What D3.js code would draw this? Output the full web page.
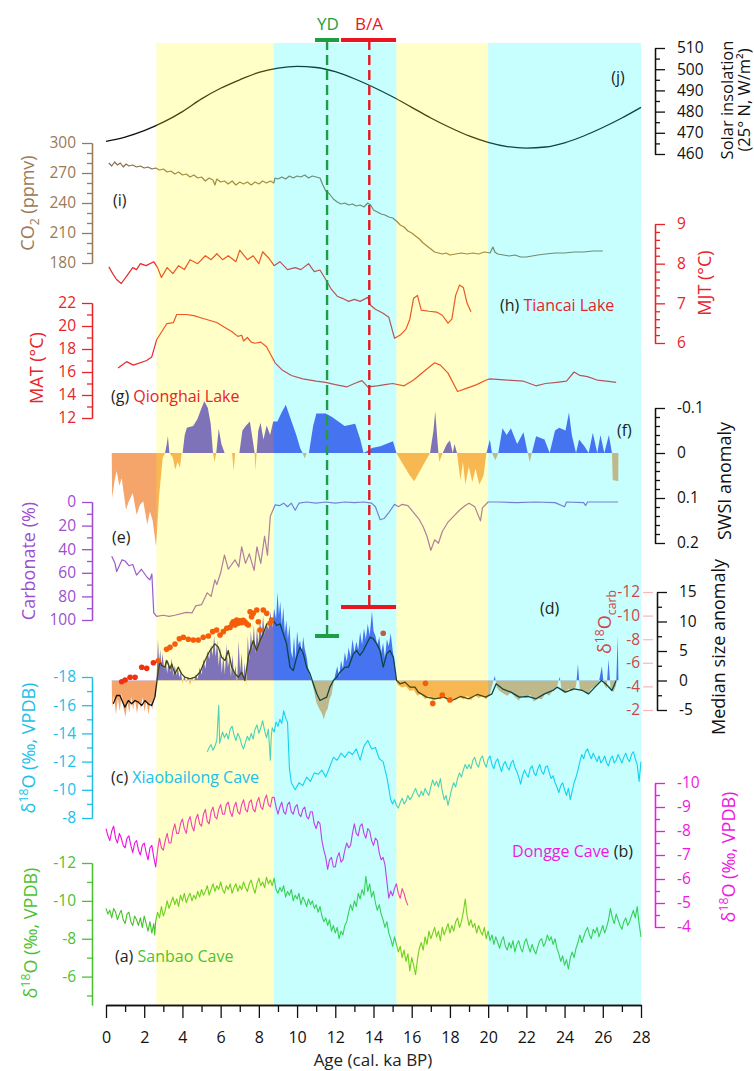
<!DOCTYPE html>
<html>
<head>
<meta charset="utf-8">
<script src="https://cdn.jsdelivr.net/npm/d3@7"></script>
<style>
  body { margin: 0; background: #fff; }
  svg text { font-family: "Open Sans", "Noto Sans", sans-serif; }
</style>
</head>
<body>
<svg id="chart" width="754" height="1071"></svg>
<script>
// ---- data (ages in ka BP) ----
const bandStart = [2.64, 8.78, 15.2, 20.0];
const bandEnd = [8.78, 15.2, 20.0, 28];
const bandKind = ["yellow", "cyan", "yellow", "cyan"];

const ydSpan = [10.94, 12.2], ydAge = 11.57;
const baSpan = [12.3, 15.18], baAge = 13.78;

// (j) solar insolation, 25N
const solar = [[0,466],[1,468],[2,471],[3,475],[4,480],[5,486],[6,491],[7,495],[8,498.5],[9,500.5],[10,501.3],[11,500.8],[12,498.8],[13,495.5],[14,491.5],[15,487],[16,482],[17,477],[18,472.5],[19,468.5],[20,465.5],[21,463.5],[22,462.8],[23,463.3],[24,465.3],[25,468.5],[26,472.5],[27,477],[28,482]];

// (i) CO2
const co2 = [[0.15,280],[0.3,277],[0.45,281],[0.6,278],[0.75,280],[0.9,276],[1.05,279],[1.2,277],[1.4,278],[1.6,276],[1.8,277],[2.0,275],[2.2,276],[2.4,274],[2.6,275],[2.8,273],[3.0,274],[3.2,271],[3.4,272],[3.6,269],[3.8,271],[4.0,268],[4.2,269],[4.4,266],[4.6,268],[4.8,265],[5.0,266],[5.2,262],[5.4,265],[5.6,263],[5.7,258],[5.8,264],[6.0,261],[6.2,262],[6.4,259],[6.6,262],[6.8,258],[7.0,261],[7.2,259],[7.4,261],[7.6,258],[7.8,261],[8.0,259],[8.2,262],[8.4,260],[8.6,262],[8.78,260],[8.85,265],[9.0,264],[9.2,266],[9.4,264],[9.6,267],[9.8,265],[10.0,267],[10.2,266],[10.4,268],[10.6,265],[10.8,267],[11.0,266],[11.2,265],[11.35,258],[11.5,252],[11.7,249],[11.9,244],[12.1,241],[12.3,239],[12.5,240],[12.7,238],[12.9,239],[13.1,237],[13.3,238],[13.5,236],[13.7,240],[13.85,238],[14.0,233],[14.2,231],[14.4,229],[14.6,228],[14.8,226],[15.0,225],[15.2,222],[15.4,218],[15.6,216],[15.8,212],[16.0,210],[16.2,207],[16.4,204],[16.6,200],[16.8,197],[17.0,194],[17.2,191],[17.4,190],[17.6,189],[17.8,190],[18.0,188],[18.3,189],[18.6,190],[18.9,189],[19.2,190],[19.5,189],[19.8,191],[20.1,190],[20.25,196],[20.35,191],[20.5,189],[20.8,188],[21.1,187],[21.4,188],[21.7,186],[22.0,186],[22.3,187],[22.6,188],[23.0,189],[23.5,190],[24.0,190],[24.5,191],[25.0,191],[25.5,192],[26.0,192]];

// (h) Tiancai Lake MJT
const mjt = [[0.15,7.92],[0.35,7.75],[0.55,7.6],[0.8,7.5],[1.1,7.7],[1.4,7.9],[1.6,7.85],[1.8,8.0],[2.1,7.95],[2.5,8.05],[2.7,7.9],[2.9,7.65],[3.2,7.9],[3.5,7.75],[3.8,7.95],[4.1,7.85],[4.4,8.1],[4.8,8.0],[5.2,8.2],[5.5,8.1],[5.8,8.25],[6.1,8.1],[6.4,8.2],[6.8,8.05],[7.0,8.34],[7.4,8.1],[7.7,8.2],[8.0,8.0],[8.2,8.3],[8.5,8.15],[8.8,7.95],[9.1,8.05],[9.5,7.85],[9.9,7.9],[10.2,7.85],[10.6,8.0],[10.9,7.8],[11.2,7.84],[11.5,7.6],[11.8,7.35],[12.1,7.18],[12.4,7.12],[12.7,7.05],[13.0,7.1],[13.3,7.05],[13.7,7.15],[13.85,6.95],[14.1,6.85],[14.5,6.75],[14.8,6.65],[15.1,6.12],[15.4,6.2],[15.7,6.35],[15.9,6.6],[16.1,7.13],[16.3,7.2],[16.5,6.83],[16.9,6.8],[17.3,6.78],[17.6,6.7],[17.9,6.5],[18.1,6.6],[18.3,7.2],[18.5,7.46],[18.7,7.4],[18.9,7.0],[19.1,6.79]];

// (g) Qionghai Lake MAT
const mat = [[0.63,16.35],[1.08,16.9],[1.43,16.6],[2.13,17.0],[2.39,17.3],[2.65,18.8],[3.18,20.2],[3.53,20.3],[3.7,21.0],[4.2,21.0],[4.6,20.9],[5.0,20.7],[5.8,20.3],[6.2,19.9],[6.6,19.5],[6.9,19.1],[7.1,19.2],[7.2,18.7],[7.4,19.0],[7.6,18.6],[7.8,18.5],[8.1,18.6],[8.4,18.2],[8.85,16.8],[9.2,16.2],[9.7,15.7],[10.3,15.4],[11.0,15.2],[11.5,15.1],[12.0,14.9],[12.6,14.7],[13.0,15.0],[13.4,15.25],[13.7,14.7],[14.2,14.8],[14.6,14.9],[15.0,15.0],[15.6,14.8],[16.1,15.3],[16.6,16.0],[17.2,16.8],[17.5,16.6],[17.9,15.9],[18.4,14.3],[18.9,14.6],[19.4,14.9],[19.9,15.3],[20.1,15.4],[21.0,15.3],[21.85,15.2],[22.5,14.8],[23.0,15.0],[23.6,15.1],[24.1,15.2],[24.5,16.0],[24.8,15.7],[25.2,15.6],[25.7,15.3],[26.2,15.2],[26.7,15.1]];

// (f) SWSI anomaly
const swsi = [[0.3,0],[0.32,0.1],[0.47,0.056],[0.56,0.04],[0.7,0.073],[0.82,0.056],[1.05,0.126],[1.17,0.11],[1.4,0.089],[1.6,0.137],[1.78,0.115],[1.95,0.107],[2.16,0.159],[2.3,0.13],[2.44,0.15],[2.62,0.207],[2.79,0.09],[2.97,0.01],[3.09,0],[3.18,-0.02],[3.24,-0.037],[3.32,0],[3.5,0.01],[3.62,0.037],[3.75,0.02],[3.87,0.033],[3.96,0],[4.01,0],[4.12,-0.04],[4.23,-0.056],[4.56,-0.06],[4.78,-0.075],[5.0,-0.1],[5.15,-0.115],[5.33,-0.1],[5.48,-0.065],[5.6,0],[5.68,0.02],[5.77,0],[5.9,-0.054],[6.04,-0.02],[6.21,0],[6.6,0],[6.68,0.04],[6.76,0],[6.98,0],[7.14,-0.05],[7.31,-0.06],[7.53,-0.07],[7.71,-0.02],[7.78,0],[7.82,0.04],[7.88,0],[7.97,-0.05],[8.09,-0.067],[8.24,-0.03],[8.41,-0.061],[8.59,-0.04],[8.75,-0.07],[8.97,-0.07],[9.19,-0.09],[9.41,-0.107],[9.63,-0.08],[9.96,-0.04],[10.17,-0.01],[10.29,0],[10.4,0.012],[10.5,0],[10.62,0],[10.84,-0.06],[11.01,-0.088],[11.5,-0.088],[11.83,-0.08],[12.16,-0.07],[12.49,-0.06],[13.04,-0.065],[13.31,-0.03],[13.48,0],[13.7,-0.005],[13.92,-0.011],[14.36,-0.015],[15.02,-0.026],[15.2,0],[15.47,0.02],[15.9,0.05],[16.13,0.063],[16.56,0.03],[16.96,0],[17.14,-0.05],[17.23,-0.093],[17.36,-0.02],[17.44,0.02],[17.62,0],[17.84,-0.02],[18.0,-0.028],[18.15,0],[18.24,-0.02],[18.37,0],[18.55,0.06],[18.68,0.02],[18.81,0.07],[18.99,0.03],[19.17,0.065],[19.34,0.035],[19.54,0.07],[19.76,0.05],[19.91,0],[20.09,-0.03],[20.2,0],[20.38,0.016],[20.53,0],[20.75,-0.055],[20.97,-0.04],[21.19,-0.055],[21.52,-0.02],[21.85,-0.046],[22.07,0],[22.18,0.02],[22.29,0],[22.51,-0.037],[22.95,-0.03],[23.22,0],[23.5,-0.05],[23.72,-0.056],[24.05,-0.05],[24.23,-0.09],[24.38,-0.04],[24.6,0],[24.76,-0.03],[25.04,-0.015],[25.26,0],[25.48,-0.045],[25.71,0],[25.88,-0.04],[26.08,0],[26.32,-0.04],[26.48,0],[26.52,0.06],[26.81,0.063],[26.82,0]];

// (e) carbonate %
const carbonate = [[0.3,46],[0.47,52],[0.56,59],[0.84,49],[1.0,50],[1.2,54],[1.4,53],[1.6,62],[1.85,57],[2.16,64],[2.3,66],[2.4,61],[2.5,94],[2.65,97],[3.0,96],[3.3,97],[3.6,96],[4.2,93.5],[4.5,94],[4.7,88],[5.0,87],[5.3,77],[5.5,80],[5.7,66],[5.8,70],[6.0,60],[6.2,45],[6.4,57],[6.75,49],[6.95,55],[7.1,38],[7.3,52],[7.5,44],[7.75,58],[7.9,38],[8.1,52],[8.3,29],[8.45,45],[8.6,12],[8.85,2.5],[9.1,3],[9.3,1],[9.5,4],[9.7,1],[9.9,7],[10.1,1],[10.5,0],[11.0,1],[11.5,0],[12.0,1],[12.5,0],[13.0,0.5],[13.5,0],[13.9,1],[14.1,4],[14.35,15],[14.55,14],[14.8,9],[15.1,2],[15.3,4],[15.5,2],[15.8,3],[16.1,9],[16.4,15],[16.6,21],[16.8,29],[17.0,41],[17.2,32],[17.4,35],[17.6,25],[17.9,17],[18.2,12],[18.5,7],[18.8,3],[19.0,1],[19.3,4],[19.6,16],[19.7,5],[20.0,0],[20.5,0],[21.5,0.5],[22.5,0],[23.5,0.5],[24.0,4],[24.1,0],[25.0,0.5],[25.1,3],[25.2,0],[26.0,0],[26.8,0]];

// (d) median size anomaly: raw record and smoothed curve
const medianRaw = [[0.3,0],[0.32,-4.5],[0.42,-2.5],[0.52,-5.8],[0.62,-3.0],[0.72,-5.2],[0.82,-2.2],[0.92,-4.8],[1.02,-6.2],[1.12,-3.6],[1.22,-5.5],[1.32,-2.8],[1.42,-4.9],[1.52,-3.2],[1.62,-5.6],[1.72,-3.5],[1.82,-4.6],[1.92,-2.9],[2.02,-5.3],[2.12,-3.3],[2.22,-5.8],[2.32,-3.6],[2.42,-4.9],[2.52,-3.0],[2.6,-2.2],[2.65,0.5],[2.72,7.0],[2.78,3.0],[2.84,5.2],[2.9,2.4],[2.96,4.6],[3.04,1.9],[3.12,3.6],[3.2,1.2],[3.28,3.3],[3.36,1.4],[3.44,3.8],[3.52,0.8],[3.6,2.6],[3.68,0.9],[3.76,2.2],[3.84,0.5],[3.92,1.6],[4.0,-0.6],[4.1,0.8],[4.2,-0.4],[4.3,0.6],[4.4,-0.8],[4.5,0.4],[4.6,-0.3],[4.7,1.0],[4.8,0.2],[4.9,2.2],[5.0,1.0],[5.1,3.6],[5.2,2.0],[5.3,5.0],[5.4,3.6],[5.5,6.0],[5.58,4.2],[5.66,7.6],[5.74,4.0],[5.82,6.8],[5.9,2.4],[5.98,5.6],[6.06,1.2],[6.14,4.4],[6.22,1.0],[6.3,6.2],[6.38,2.2],[6.46,3.8],[6.54,0.6],[6.62,4.4],[6.7,0.8],[6.78,2.6],[6.86,-0.6],[6.94,6.8],[7.02,1.6],[7.1,4.6],[7.18,0.2],[7.26,3.0],[7.34,-1.0],[7.42,7.6],[7.5,3.4],[7.58,8.4],[7.66,5.2],[7.74,9.4],[7.82,4.6],[7.9,8.8],[7.98,6.0],[8.06,10.6],[8.14,7.2],[8.22,11.0],[8.3,7.8],[8.4,9.8],[8.5,8.6],[8.6,11.6],[8.7,9.0],[8.8,12.2],[8.9,10.4],[8.98,15.0],[9.05,11.0],[9.12,13.4],[9.2,9.4],[9.28,12.4],[9.36,8.0],[9.44,10.2],[9.52,7.0],[9.6,9.4],[9.68,5.0],[9.76,3.8],[9.84,7.4],[9.92,3.6],[10.0,8.4],[10.08,6.0],[10.16,6.8],[10.24,4.6],[10.32,7.4],[10.4,5.4],[10.5,4.0],[10.6,1.6],[10.7,0.6],[10.8,-0.6],[10.9,-2.0],[11.0,-3.6],[11.1,-4.4],[11.2,-5.0],[11.3,-5.6],[11.4,-6.6],[11.5,-5.4],[11.6,-4.8],[11.7,-3.2],[11.8,-2.4],[11.9,-0.6],[12.0,1.0],[12.1,2.4],[12.2,0.6],[12.3,3.4],[12.4,2.0],[12.5,4.8],[12.6,3.2],[12.7,5.6],[12.8,4.0],[12.9,7.0],[13.0,4.8],[13.1,6.6],[13.2,5.2],[13.3,8.2],[13.4,6.0],[13.5,8.8],[13.6,7.0],[13.7,9.6],[13.8,7.6],[13.92,11.8],[14.0,8.4],[14.1,7.6],[14.2,6.0],[14.3,7.4],[14.4,4.6],[14.5,6.4],[14.6,3.8],[14.7,7.0],[14.8,5.8],[14.9,8.0],[15.0,5.2],[15.1,3.0],[15.18,0.4],[15.24,-0.6],[15.3,-0.8],[15.5,-1.2],[15.7,-1.0],[15.9,-1.8],[16.1,-1.6],[16.3,-2.6],[16.5,-2.2],[16.7,-3.2],[16.9,-2.6],[17.1,-3.4],[17.3,-3.0],[17.5,-3.2],[17.7,-2.8],[17.9,-3.6],[18.1,-3.0],[18.3,-3.4],[18.5,-2.8],[18.7,-3.2],[18.9,-2.6],[19.1,-3.4],[19.3,-2.4],[19.5,-3.0],[19.7,-2.6],[19.9,-3.2],[20.1,-2.2],[20.25,-0.4],[20.35,0.8],[20.45,-1.2],[20.6,-1.8],[20.8,-2.2],[21.0,-2.6],[21.2,-2.0],[21.4,-2.8],[21.6,-3.4],[21.8,-2.6],[22.0,-3.0],[22.2,-2.4],[22.4,-3.6],[22.6,-3.0],[22.8,-3.2],[23.0,-2.2],[23.2,-2.6],[23.4,-1.6],[23.6,-1.0],[23.75,0.6],[23.85,-1.8],[24.0,-2.2],[24.2,-1.4],[24.4,-1.8],[24.6,-1.0],[24.7,2.8],[24.8,-1.6],[25.0,-1.8],[25.2,-2.4],[25.4,-1.4],[25.6,-1.0],[25.8,-0.2],[25.95,2.4],[26.05,-0.6],[26.2,-1.4],[26.3,3.6],[26.4,-1.2],[26.55,-2.0],[26.7,-0.8],[26.78,7.6],[26.82,0]];
const medianSmooth = [[0.38,-3.95],[0.56,-2.54],[0.73,-2.54],[0.91,-3.95],[0.99,-4.52],[1.17,-3.39],[1.34,-3.95],[1.52,-3.39],[1.69,-3.67],[1.87,-4.24],[2.04,-3.39],[2.21,-3.95],[2.39,-4.24],[2.56,-2.82],[2.65,-0.56],[2.74,1.69],[2.83,3.39],[2.91,2.54],[3.09,2.26],[3.18,3.39],[3.35,1.98],[3.44,2.82],[3.61,1.13],[3.78,2.26],[3.96,1.13],[4.13,0.56],[4.4,0.28],[4.66,0.56],[4.92,1.41],[5.18,3.39],[5.44,5.08],[5.7,6.21],[5.88,5.65],[6.05,3.95],[6.23,3.39],[6.4,5.08],[6.58,2.26],[6.75,1.13],[6.93,0.56],[7.1,1.41],[7.27,0],[7.45,3.95],[7.54,5.08],[7.71,6.78],[7.88,5.08],[8.06,6.78],[8.23,7.91],[8.41,9.6],[8.58,9.6],[8.76,10.17],[8.93,9.32],[9.11,9.6],[9.28,7.91],[9.45,6.21],[9.63,2.26],[9.8,1.69],[9.98,3.95],[10.15,5.65],[10.33,4.52],[10.5,2.26],[10.68,1.13],[10.85,-0.56],[11.03,-2.26],[11.2,-3.39],[11.38,-3.1],[11.55,-2.82],[11.72,-1.13],[11.9,0],[12.07,0.56],[12.25,1.41],[12.51,2.26],[12.69,2.26],[12.95,4.52],[13.12,5.08],[13.29,4.24],[13.47,5.08],[13.64,6.21],[13.82,7.34],[13.99,7.06],[14.17,6.21],[14.34,5.08],[14.51,2.26],[14.69,4.52],[14.86,5.08],[15.04,3.95],[15.21,0],[15.39,-0.56],[15.65,-0.28],[15.91,-1.13],[16.17,-1.13],[16.34,-1.98],[16.78,-2.82],[17.22,-3.1],[17.66,-2.82],[18.11,-3.39],[18.55,-2.71],[18.99,-3.1],[19.43,-2.37],[19.87,-2.82],[20.2,-2.26],[20.42,-0.56],[20.75,-1.41],[21.19,-1.98],[21.63,-2.82],[22.07,-2.71],[22.51,-3.1],[22.95,-2.26],[23.39,-1.69],[23.61,-1.13],[24.05,-1.98],[24.49,-1.41],[24.93,-1.69],[25.26,-2.26],[25.59,-1.13],[25.93,0],[26.15,-0.56],[26.48,-1.69],[26.7,0]];

// (d) d18O carb (red dots)
const carbO18 = [[0.82,-4.4],[1.0,-4.54],[1.26,-4.77],[1.52,-4.77],[1.87,-5.62],[2.13,-5.53],[2.48,-6.0],[2.74,-6.18],[3.17,-7.14],[3.35,-7.31],[3.61,-7.59],[3.84,-8.04],[4.05,-8.16],[4.31,-7.99],[4.57,-7.93],[4.83,-7.93],[5.09,-8.16],[5.36,-8.27],[5.58,-8.64],[5.79,-8.78],[5.97,-8.36],[6.14,-8.64],[6.32,-8.92],[6.49,-9.0],[6.6,-9.3],[6.66,-9.48],[6.75,-9.2],[6.84,-9.63],[6.93,-9.35],[7.0,-9.55],[7.1,-9.4],[7.18,-9.6],[7.27,-9.48],[7.36,-9.3],[7.45,-9.2],[7.54,-10.33],[7.62,-9.9],[7.71,-10.19],[7.89,-10.47],[7.97,-9.48],[8.06,-8.78],[8.23,-10.47],[8.41,-10.19],[8.58,-9.35],[8.67,-9.63],[14.51,-8.5],[16.72,-4.26],[17.1,-2.56],[17.6,-3.27],[18.0,-2.85]];

// (c) Xiaobailong Cave d18O
const xiaobailong = [[5.3,-12.7],[5.4,-13.0],[5.5,-13.2],[5.6,-12.8],[5.7,-13.1],[5.8,-13.5],[5.9,-16.0],[5.95,-13.3],[6.0,-13.6],[6.1,-14.1],[6.2,-13.7],[6.3,-14.0],[6.4,-13.6],[6.5,-14.3],[6.6,-14.5],[6.7,-13.9],[6.8,-13.5],[6.9,-14.0],[7.0,-13.7],[7.1,-13.2],[7.2,-12.9],[7.3,-13.4],[7.4,-13.8],[7.5,-13.5],[7.6,-14.0],[7.7,-13.6],[7.8,-14.3],[7.9,-14.6],[8.0,-14.0],[8.1,-14.4],[8.2,-14.9],[8.3,-14.2],[8.4,-13.7],[8.5,-14.3],[8.6,-12.1],[8.65,-13.8],[8.7,-14.4],[8.8,-14.1],[8.9,-14.8],[9.0,-14.5],[9.1,-15.0],[9.2,-14.7],[9.3,-15.6],[9.4,-15.1],[9.5,-14.8],[9.6,-11.5],[9.7,-10.5],[9.9,-10.0],[10.1,-10.5],[10.3,-10.3],[10.5,-10.9],[10.7,-10.6],[10.9,-11.2],[11.1,-11.1],[11.3,-11.4],[11.5,-10.9],[11.7,-11.6],[11.9,-12.3],[12.1,-12.1],[12.3,-12.6],[12.5,-12.3],[12.7,-12.7],[12.9,-12.5],[13.1,-12.9],[13.3,-12.1],[13.5,-13.1],[13.7,-13.5],[13.9,-12.9],[14.1,-13.0],[14.3,-12.2],[14.5,-12.0],[14.7,-10.9],[14.9,-9.3],[15.0,-9.0],[15.1,-9.3],[15.2,-8.9],[15.3,-8.7],[15.4,-9.1],[15.5,-9.4],[15.6,-9.0],[15.7,-9.2],[15.8,-9.6],[15.9,-9.3],[16.0,-9.5],[16.1,-9.8],[16.2,-10.1],[16.3,-9.7],[16.4,-9.5],[16.5,-9.9],[16.6,-9.6],[16.7,-10.1],[16.8,-9.8],[16.9,-9.6],[17.0,-10.2],[17.1,-10.7],[17.2,-10.3],[17.3,-10.6],[17.4,-10.2],[17.5,-10.8],[17.6,-9.9],[17.7,-9.3],[17.8,-9.6],[17.9,-8.9],[18.0,-9.5],[18.1,-10.1],[18.2,-10.5],[18.3,-10.2],[18.4,-10.8],[18.5,-11.2],[18.6,-10.9],[18.7,-11.4],[18.8,-11.8],[18.9,-11.5],[19.0,-11.8],[19.1,-11.5],[19.2,-12.1],[19.3,-12.3],[19.4,-11.8],[19.5,-11.6],[19.6,-12.2],[19.7,-12.4],[19.8,-11.9],[19.9,-11.6],[20.0,-12.2],[20.1,-12.4],[20.2,-11.8],[20.3,-11.5],[20.4,-12.0],[20.5,-12.2],[20.6,-11.7],[20.7,-11.3],[20.8,-11.8],[20.9,-12.0],[21.0,-11.6],[21.1,-11.4],[21.2,-11.9],[21.3,-12.1],[21.4,-11.6],[21.5,-11.3],[21.6,-10.9],[21.7,-10.4],[21.8,-11.0],[21.9,-11.4],[22.0,-11.1],[22.1,-10.9],[22.2,-11.5],[22.3,-11.7],[22.4,-11.2],[22.5,-11.0],[22.6,-11.5],[22.7,-11.8],[22.8,-11.3],[22.9,-11.1],[23.0,-11.6],[23.1,-11.7],[23.2,-11.2],[23.3,-10.8],[23.4,-11.0],[23.5,-10.5],[23.6,-10.2],[23.7,-9.8],[23.8,-10.3],[23.9,-10.5],[24.0,-10.0],[24.1,-9.6],[24.2,-10.1],[24.3,-9.3],[24.4,-9.9],[24.5,-10.5],[24.6,-10.9],[24.7,-11.4],[24.8,-12.0],[24.9,-12.5],[25.0,-12.2],[25.1,-12.7],[25.2,-12.9],[25.3,-12.5],[25.4,-12.2],[25.5,-12.6],[25.6,-12.3],[25.7,-12.0],[25.8,-12.4],[25.9,-11.9],[26.0,-12.1],[26.1,-12.4],[26.2,-11.9],[26.3,-11.7],[26.4,-12.2],[26.5,-12.4],[26.6,-11.9],[26.7,-12.1],[26.8,-12.5],[26.9,-12.2],[27.0,-11.9],[27.1,-12.3],[27.2,-12.6],[27.3,-12.2],[27.4,-12.0],[27.5,-12.5],[27.6,-12.7],[27.7,-12.2],[27.8,-11.8],[27.9,-10.6],[28.0,-12.0]];

// (b) Dongge Cave d18O
const dongge = [[0.0,-8.1],[0.1,-7.8],[0.2,-7.6],[0.3,-8.0],[0.4,-8.2],[0.5,-7.7],[0.6,-7.5],[0.7,-7.9],[0.8,-7.7],[0.9,-7.4],[1.0,-7.3],[1.1,-7.7],[1.2,-7.8],[1.3,-7.4],[1.4,-7.1],[1.5,-7.5],[1.6,-7.6],[1.7,-7.2],[1.8,-7.0],[1.9,-7.4],[2.0,-7.5],[2.1,-7.1],[2.2,-6.8],[2.3,-7.3],[2.4,-7.4],[2.5,-6.9],[2.6,-6.5],[2.7,-7.2],[2.8,-7.7],[2.9,-7.3],[3.0,-7.2],[3.1,-7.6],[3.2,-7.9],[3.3,-7.5],[3.4,-7.5],[3.5,-8.0],[3.6,-8.3],[3.7,-7.9],[3.8,-7.9],[3.9,-8.3],[4.0,-8.5],[4.1,-8.1],[4.2,-7.9],[4.3,-8.4],[4.4,-8.6],[4.5,-8.2],[4.6,-8.0],[4.7,-8.5],[4.8,-8.7],[4.9,-8.3],[5.0,-8.2],[5.1,-8.7],[5.2,-8.9],[5.3,-8.4],[5.4,-8.3],[5.5,-8.8],[5.6,-9.0],[5.7,-8.6],[5.8,-8.5],[5.9,-8.9],[6.0,-9.1],[6.1,-8.7],[6.2,-8.7],[6.3,-9.1],[6.4,-9.2],[6.5,-8.8],[6.6,-8.6],[6.7,-9.0],[6.8,-9.2],[6.9,-8.8],[7.0,-8.7],[7.1,-9.1],[7.2,-9.3],[7.3,-8.9],[7.4,-8.8],[7.5,-9.2],[7.6,-9.3],[7.7,-8.9],[7.8,-8.8],[7.9,-9.2],[8.0,-9.4],[8.1,-9.0],[8.2,-8.9],[8.3,-9.3],[8.4,-9.5],[8.5,-9.1],[8.6,-9.0],[8.7,-9.4],[8.8,-9.4],[8.9,-9.0],[9.0,-8.7],[9.1,-9.0],[9.2,-9.2],[9.3,-8.8],[9.4,-8.7],[9.5,-9.1],[9.6,-9.2],[9.7,-8.8],[9.8,-8.7],[9.9,-9.0],[10.0,-9.1],[10.1,-8.7],[10.2,-8.6],[10.3,-8.9],[10.4,-9.0],[10.5,-8.6],[10.6,-8.5],[10.7,-8.8],[10.8,-8.8],[10.9,-8.3],[11.0,-8.1],[11.1,-8.4],[11.2,-8.3],[11.3,-7.6],[11.4,-7.2],[11.5,-6.9],[11.6,-6.4],[11.7,-6.8],[11.8,-6.9],[11.9,-6.5],[12.0,-6.5],[12.1,-6.9],[12.2,-7.1],[12.3,-6.7],[12.4,-6.8],[12.5,-7.2],[12.6,-7.5],[12.7,-7.3],[12.8,-7.4],[12.9,-7.9],[13.0,-8.3],[13.1,-7.9],[13.2,-7.8],[13.3,-8.2],[13.4,-8.3],[13.5,-7.9],[13.6,-7.7],[13.7,-8.1],[13.8,-8.0],[13.9,-7.6],[14.0,-7.4],[14.1,-7.7],[14.2,-7.6],[14.3,-7.1],[14.4,-6.8],[14.5,-6.9],[14.6,-6.6],[14.7,-5.9],[14.8,-5.2],[14.9,-5.5],[15.0,-5.3],[15.1,-5.6],[15.2,-5.8],[15.3,-5.4],[15.4,-5.2],[15.5,-5.6],[15.6,-5.4],[15.7,-5.1],[15.8,-4.9]];

// (a) Sanbao Cave d18O
const sanbao = [[0.0,-9.6],[0.1,-9.3],[0.2,-9.5],[0.3,-9.1],[0.4,-9.6],[0.5,-9.4],[0.6,-9.0],[0.7,-9.3],[0.8,-9.5],[0.9,-9.0],[1.0,-8.8],[1.1,-9.3],[1.2,-9.4],[1.3,-8.9],[1.4,-8.7],[1.5,-9.2],[1.6,-9.0],[1.7,-8.7],[1.8,-9.1],[1.9,-8.6],[2.0,-9.2],[2.1,-8.8],[2.2,-8.4],[2.3,-8.9],[2.4,-8.3],[2.5,-8.8],[2.55,-8.2],[2.6,-8.9],[2.7,-9.4],[2.8,-9.1],[2.9,-9.7],[3.0,-9.2],[3.1,-9.5],[3.2,-10.0],[3.3,-9.6],[3.4,-9.9],[3.5,-10.2],[3.6,-9.8],[3.7,-10.1],[3.8,-9.7],[3.9,-10.3],[4.0,-10.0],[4.1,-10.4],[4.2,-9.9],[4.3,-10.2],[4.4,-10.4],[4.5,-10.0],[4.6,-10.3],[4.7,-10.1],[4.8,-10.5],[4.9,-10.2],[5.0,-10.6],[5.1,-10.3],[5.2,-10.5],[5.3,-10.8],[5.4,-10.3],[5.5,-10.6],[5.6,-10.9],[5.7,-10.5],[5.8,-10.8],[5.9,-10.6],[6.0,-11.0],[6.1,-10.6],[6.2,-10.4],[6.3,-10.8],[6.4,-10.6],[6.5,-10.9],[6.6,-10.4],[6.7,-10.7],[6.8,-10.9],[6.9,-10.5],[7.0,-10.8],[7.1,-10.6],[7.2,-11.0],[7.3,-10.7],[7.4,-10.5],[7.5,-10.9],[7.6,-11.1],[7.7,-10.7],[7.8,-10.4],[7.9,-10.9],[8.0,-11.2],[8.1,-10.8],[8.2,-11.0],[8.3,-10.7],[8.4,-11.25],[8.5,-10.9],[8.6,-11.1],[8.7,-10.8],[8.8,-11.2],[8.9,-10.6],[9.0,-10.4],[9.1,-10.7],[9.2,-10.5],[9.3,-10.8],[9.4,-10.2],[9.5,-10.5],[9.6,-10.3],[9.7,-10.6],[9.8,-10.0],[9.9,-10.3],[10.0,-10.1],[10.1,-10.4],[10.2,-9.8],[10.3,-10.2],[10.4,-10.0],[10.5,-9.7],[10.6,-10.1],[10.7,-9.8],[10.8,-10.0],[10.9,-9.6],[11.0,-9.8],[11.1,-9.4],[11.2,-9.7],[11.3,-9.2],[11.4,-8.9],[11.5,-9.1],[11.6,-8.7],[11.7,-9.0],[11.8,-8.4],[11.9,-8.7],[12.0,-8.3],[12.1,-8.6],[12.2,-8.0],[12.3,-8.4],[12.4,-8.2],[12.5,-8.7],[12.6,-8.9],[12.7,-9.4],[12.8,-9.8],[12.9,-9.5],[13.0,-10.0],[13.1,-9.7],[13.2,-10.4],[13.3,-10.1],[13.4,-10.6],[13.5,-10.3],[13.6,-11.3],[13.7,-10.5],[13.8,-10.9],[13.9,-10.2],[14.0,-10.5],[14.1,-9.9],[14.2,-9.5],[14.3,-9.8],[14.4,-9.3],[14.5,-9.0],[14.6,-8.6],[14.7,-8.9],[14.8,-8.3],[14.9,-8.0],[15.0,-7.6],[15.1,-8.1],[15.2,-7.7],[15.3,-7.3],[15.4,-7.6],[15.5,-7.0],[15.6,-7.4],[15.7,-6.8],[15.8,-7.2],[15.9,-6.3],[16.0,-7.0],[16.1,-6.6],[16.2,-6.1],[16.3,-6.9],[16.4,-7.5],[16.5,-7.8],[16.6,-7.4],[16.7,-8.1],[16.8,-7.7],[16.9,-8.4],[17.0,-8.0],[17.1,-8.3],[17.2,-8.6],[17.3,-8.1],[17.4,-8.4],[17.5,-7.9],[17.6,-8.6],[17.7,-8.2],[17.8,-8.5],[17.9,-8.8],[18.0,-8.3],[18.1,-8.7],[18.2,-8.4],[18.3,-8.9],[18.4,-9.1],[18.5,-8.6],[18.6,-8.9],[18.7,-9.4],[18.8,-10.1],[18.9,-9.2],[19.0,-8.7],[19.1,-9.0],[19.2,-8.6],[19.3,-8.8],[19.4,-8.3],[19.5,-8.7],[19.6,-8.4],[19.7,-8.2],[19.8,-8.6],[19.9,-8.0],[20.0,-8.4],[20.1,-7.9],[20.2,-8.2],[20.3,-7.7],[20.4,-8.1],[20.5,-7.8],[20.6,-7.5],[20.7,-7.9],[20.8,-8.1],[20.9,-7.6],[21.0,-7.4],[21.1,-7.8],[21.2,-7.5],[21.3,-7.9],[21.4,-7.3],[21.5,-7.7],[21.6,-7.9],[21.7,-7.5],[21.8,-7.3],[21.9,-7.8],[22.0,-8.0],[22.1,-7.6],[22.2,-7.3],[22.3,-7.7],[22.4,-7.4],[22.5,-7.2],[22.6,-7.6],[22.7,-7.9],[22.8,-8.0],[22.9,-7.6],[23.0,-7.8],[23.1,-8.2],[23.2,-7.9],[23.3,-8.1],[23.4,-7.7],[23.5,-8.0],[23.6,-7.5],[23.7,-7.2],[23.8,-6.8],[23.9,-7.1],[24.0,-6.6],[24.1,-6.9],[24.2,-6.4],[24.3,-7.0],[24.4,-7.3],[24.5,-7.0],[24.6,-7.5],[24.7,-7.8],[24.8,-8.2],[24.9,-7.8],[25.0,-8.1],[25.1,-8.4],[25.2,-8.6],[25.3,-8.2],[25.4,-8.0],[25.5,-8.5],[25.6,-8.3],[25.7,-8.6],[25.8,-8.1],[25.9,-8.4],[26.0,-8.7],[26.1,-8.3],[26.2,-8.6],[26.3,-9.0],[26.4,-9.6],[26.5,-9.1],[26.6,-8.8],[26.7,-9.3],[26.8,-9.0],[26.9,-8.7],[27.0,-8.5],[27.1,-8.9],[27.2,-9.1],[27.3,-8.7],[27.4,-8.9],[27.5,-9.2],[27.6,-9.5],[27.7,-9.1],[27.8,-9.7],[27.9,-8.8],[28.0,-8.1]];

// ---- tick values ----
const ageMajor = d3.range(0, 29, 2), ageMinor = d3.range(1, 28, 2);

// ---- layout ----
const svg = d3.select("#chart");
const defs = svg.append("defs");
const x = d3.scaleLinear().domain([0, 28]).range([106, 641]);

const ySolar = d3.scaleLinear().domain([460, 510]).range([154, 48]);
const yCO2 = d3.scaleLinear().domain([180, 300]).range([263, 143]);
const yMJT = d3.scaleLinear().domain([6, 9]).range([343, 224]);
const yMAT = d3.scaleLinear().domain([12, 22]).range([418, 303]);
const ySWSI = d3.scaleLinear().domain([-0.1, 0.2]).range([408, 543]);
const yCarb = d3.scaleLinear().domain([0, 100]).range([502, 620]);
const yMed = d3.scaleLinear().domain([-5, 15]).range([710, 592]);
const yCarbO = d3.scaleLinear().domain([-12, -2]).range([592, 710]);
const yXbl = d3.scaleLinear().domain([-18, -8]).range([677, 818]);
const yDg = d3.scaleLinear().domain([-10, -4]).range([783, 927]);
const ySb = d3.scaleLinear().domain([-12, -4.5]).range([863, 1005]);

const BLUE = "#5a4cec", ORANGE = "#f5a569";
const plot = svg.append("g");

function drawLine(data, ys, color, w, curve) {
  plot.append("path")
      .datum(data)
      .attr("fill", "none")
      .attr("stroke", color)
      .attr("stroke-width", w || 1.2)
      .attr("stroke-linejoin", "round")
      .attr("d", d3.line().x(d => x(d[0])).y(d => ys(d[1])).curve(curve || d3.curveLinear));
}

let clipN = 0;
function signedFill(data, ys, top, bottom) {
  const y0 = ys(0);
  const up = "clipUp" + clipN, dn = "clipDn" + clipN;
  clipN++;
  defs.append("clipPath").attr("id", up).append("rect")
      .attr("x", 90).attr("width", 570).attr("y", top).attr("height", y0 - top);
  defs.append("clipPath").attr("id", dn).append("rect")
      .attr("x", 90).attr("width", 570).attr("y", y0).attr("height", bottom - y0);
  const area = d3.area().x(d => x(d[0])).y0(y0).y1(d => ys(d[1]));
  plot.append("path").datum(data).attr("d", area).attr("fill", BLUE).attr("clip-path", `url(#${up})`);
  plot.append("path").datum(data).attr("d", area).attr("fill", ORANGE).attr("clip-path", `url(#${dn})`);
}

// fills first
signedFill(swsi, ySWSI, 380, 570);
signedFill(medianRaw, yMed, 570, 740);

// lines
drawLine(solar, ySolar, "#111", 1.3, d3.curveMonotoneX);
drawLine(co2, yCO2, "#8c6d4e", 1.2);
drawLine(mjt, yMJT, "#e8282c", 1.2);
drawLine(mat, yMAT, "#e8282c", 1.2);
drawLine(carbonate, yCarb, "#9a5cc4", 1.2);
drawLine(medianSmooth, yMed, "#111", 1.3);
drawLine(xiaobailong, yXbl, "#16c6ee", 1.1);
drawLine(dongge, yDg, "#ee10e0", 1.1);
drawLine(sanbao, ySb, "#44c428", 1.1);

plot.append("g").selectAll("circle")
    .data(carbO18)
    .enter().append("circle")
    .attr("cx", d => x(d[0]))
    .attr("cy", d => yCarbO(d[1]))
    .attr("r", 2.8)
    .attr("fill", "#f2300e");

// climate stage bands, laid over the records
svg.append("g").selectAll("rect")
    .data(bandStart.map((s, i) => ({s, e: bandEnd[i], k: bandKind[i]})))
    .enter().append("rect")
    .attr("x", d => x(d.s))
    .attr("width", d => x(d.e) - x(d.s))
    .attr("y", 43)
    .attr("height", 1005 - 43)
    .attr("fill", d => d.k === "yellow" ? "#ffff00" : "#00ffff")
    .attr("fill-opacity", 0.22);

// YD and B/A markers
function marker(span, age, color, bottomY) {
  const g = svg.append("g").attr("stroke", color);
  g.append("line").attr("x1", x(span[0])).attr("x2", x(span[1])).attr("y1", 40).attr("y2", 40).attr("stroke-width", 4);
  g.append("line").attr("x1", x(age)).attr("x2", x(age)).attr("y1", 40).attr("y2", bottomY)
      .attr("stroke-width", 2.4).attr("stroke-dasharray", "10,5");
  g.append("line").attr("x1", x(span[0])).attr("x2", x(span[1])).attr("y1", bottomY).attr("y2", bottomY).attr("stroke-width", 4);
}
marker(ydSpan, ydAge, "#1e9e44", 636);
marker(baSpan, baAge, "#e8161e", 607);

// ---- axes ----
function yAxis(side, scale, xPos, major, minor, color, fmt) {
  const g = svg.append("g").attr("transform", `translate(${xPos},0)`);
  const mk = side === "left" ? d3.axisLeft : d3.axisRight;
  g.append("g").call(mk(scale).tickValues(minor).tickSize(5).tickSizeOuter(0).tickFormat(""));
  g.append("g").call(mk(scale).tickValues(major).tickSize(10).tickSizeOuter(0)
      .tickPadding(side === "left" ? 6 : 12).tickFormat(fmt || (d => String(d))));
  g.selectAll("path, line").attr("stroke", color).attr("stroke-width", 1.3);
  g.selectAll("text").attr("fill", color).style("font-size", "15.5px")
      .style("font-family", '"Open Sans", sans-serif');
  return g;
}

yAxis("right", ySolar, 655, d3.range(460, 511, 10), d3.range(465, 510, 10), "#111");
yAxis("left", yCO2, 92, d3.range(180, 301, 30), d3.range(190, 300, 10).filter(v => v % 30 !== 0), "#9b7a57");
yAxis("right", yMJT, 655, [6, 7, 8, 9], d3.range(6.2, 9, 0.2).map(v => +v.toFixed(1)).filter(v => v % 1 !== 0), "#e8232a");
yAxis("left", yMAT, 92, d3.range(12, 23, 2), d3.range(13, 22, 2), "#e8232a");
yAxis("right", ySWSI, 655, [-0.1, 0, 0.1, 0.2], [-0.08, -0.06, -0.04, -0.02, 0.02, 0.04, 0.06, 0.08, 0.12, 0.14, 0.16, 0.18], "#111");
yAxis("left", yCarb, 92, d3.range(0, 101, 20), d3.range(10, 100, 20), "#9b4fd0");
yAxis("right", yMed, 657, [-5, 0, 5, 10, 15], [-2.5, 2.5, 7.5, 12.5], "#111");
yAxis("left", yXbl, 92, d3.range(-18, -7, 2), d3.range(-17, -8, 2), "#20bfe8");
yAxis("right", yDg, 655, d3.range(-10, -3, 1), d3.range(-9.5, -4, 1), "#ee18e0");
yAxis("left", ySb, 92, [-12, -10, -8, -6], [-11, -9, -7, -5], "#4cc232");

// d18O carb labels with faint ticks
const gc = svg.append("g").attr("transform", "translate(653,0)")
    .call(d3.axisLeft(yCarbO).tickValues(d3.range(-12, -1, 2)).tickSize(10).tickPadding(3).tickFormat(d => String(d)));
gc.select(".domain").remove();
gc.selectAll("line").attr("stroke", "#f6b8b8").attr("stroke-width", 1.2);
gc.selectAll("text").attr("fill", "#cf4646").style("font-size", "15.5px");

// age axis
const gx = svg.append("g").attr("transform", "translate(0,1005)");
gx.append("g").call(d3.axisBottom(x).tickValues(ageMinor).tickSize(7).tickSizeOuter(0).tickFormat(""));
gx.append("g").call(d3.axisBottom(x).tickValues(ageMajor).tickSize(13).tickSizeOuter(0).tickPadding(14).tickFormat(d => String(d)));
gx.selectAll("path, line").attr("stroke", "#111").attr("stroke-width", 1.3);
gx.selectAll("text").attr("fill", "#111").style("font-size", "16px");

// ---- text ----
function label(xp, yp, parts, size, anchor) {
  const t = svg.append("text").attr("x", xp).attr("y", yp)
      .attr("text-anchor", anchor || "start").style("font-size", (size || 16) + "px");
  parts.forEach(p => t.append("tspan").attr("fill", p[1]).text(p[0]));
}
function vTitle(xb, yc, color, size, parts) {
  const t = svg.append("text")
      .attr("transform", `translate(${xb},${yc}) rotate(-90)`)
      .attr("text-anchor", "middle").attr("fill", color).style("font-size", size + "px");
  let shift = 0;
  parts.forEach(p => {
    const target = p[1] === 1 ? -size * 0.38 : p[1] === -1 ? size * 0.25 : 0;
    const ts = t.append("tspan").text(p[0]).attr("dy", target - shift);
    if (p[1] !== 0) ts.style("font-size", (size * 0.68) + "px");
    shift = target;
  });
}

const K = "#222";
label(328, 30, [["YD", "#1e9e44"]], 17, "middle");
label(369, 30, [["B/A", "#e8161e"]], 17, "middle");
label(618, 83, [["(j)", K]], 16, "middle");
label(113, 206, [["(i)", K]], 16);
label(500, 311, [["(h)  ", K], ["Tiancai Lake", "#e8232a"]], 16);
label(111, 402, [["(g)  ", K], ["Qionghai Lake", "#e8232a"]], 16);
label(617, 436, [["(f)", K]], 16);
label(112, 543, [["(e)", K]], 16);
label(540, 614, [["(d)", K]], 16);
label(111, 783, [["(c)  ", K], ["Xiaobailong Cave", "#20bfe8"]], 16);
label(633, 857, [["Dongge Cave ", "#ee18e0"], ["(b)", K]], 16, "end");
label(115, 962, [["(a)  ", K], ["Sanbao Cave", "#4cc232"]], 16);
label(373, 1066, [["Age (cal. ka BP)", K]], 17, "middle");

vTitle(733, 100, "#111", 16.5, [["Solar insolation", 0]]);
vTitle(750, 100, "#111", 16.5, [["(25° N, W/m²)", 0]]);
vTitle(34, 203, "#9b7a57", 18, [["CO", 0], ["2", -1], [" (ppmv)", 0]]);
vTitle(711, 283, "#e8232a", 18, [["MJT (°C)", 0]]);
vTitle(43, 368, "#e8232a", 18, [["MAT (°C)", 0]]);
vTitle(731, 481, "#111", 18, [["SWSI anomaly", 0]]);
vTitle(35, 561, "#9b4fd0", 18, [["Carbonate (%)", 0]]);
vTitle(725, 647, "#111", 18, [["Median size anomaly", 0]]);
vTitle(611, 622, "#cf4646", 18, [["δ", 0], ["18", 1], ["O", 0], ["carb", -1]]);
vTitle(35, 748, "#20bfe8", 18, [["δ", 0], ["18", 1], ["O (‰, VPDB)", 0]]);
vTitle(735, 857, "#ee18e0", 18, [["δ", 0], ["18", 1], ["O (‰, VPDB)", 0]]);
vTitle(37, 933, "#4cc232", 18, [["δ", 0], ["18", 1], ["O (‰, VPDB)", 0]]);
</script>
</body>
</html>
